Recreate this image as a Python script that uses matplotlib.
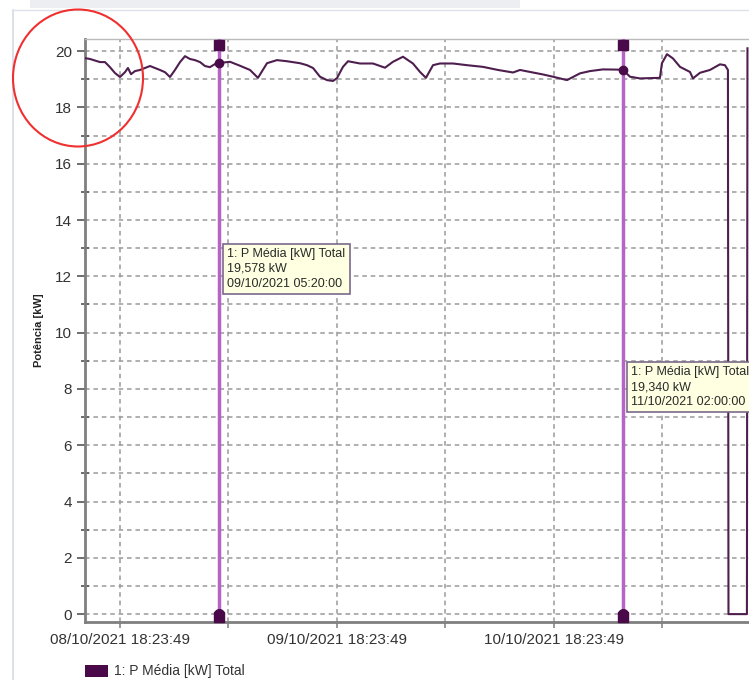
import datetime as dt
import matplotlib
matplotlib.use("Agg")
import matplotlib.pyplot as plt
import matplotlib.dates as mdates
from matplotlib.patches import Ellipse, Rectangle

plt.rcParams['font.family'] = ['Liberation Sans', 'DejaVu Sans']

# Measurement series: hours relative to 08/10/2021 18:23:49 and mean power (kW)
base_time = dt.datetime(2021, 10, 8, 18, 23, 49)
hours = [-3.87, -3.32, -2.21, -1.66, -1.11, -0.55, 0.0, 0.55, 0.88, 1.22,
         1.66, 2.21, 2.76, 3.32, 3.87, 4.42, 4.98, 5.53, 6.08, 6.64,
         7.19, 7.74, 8.29, 8.85, 9.40, 9.95, 10.51, 10.94, 12.17, 13.27,
         14.38, 15.26, 16.26, 17.36, 18.47, 19.91, 20.68, 21.35, 22.12, 22.89,
         23.56, 24.00, 24.66, 25.22, 26.54, 27.98, 29.31, 30.19, 31.30, 32.40,
         33.18, 33.84, 34.62, 35.39, 36.83, 38.38, 40.15, 41.81, 43.47, 44.24,
         45.35, 46.79, 47.89, 49.44, 50.88, 51.98, 53.42, 55.60, 56.41, 57.51,
         59.72, 59.94, 60.50, 61.16, 61.94, 63.04, 63.37, 64.15, 65.25, 66.36,
         66.91, 67.24, 67.30, 69.34, 69.40]
power_kw = [19.75, 19.72, 19.61, 19.61, 19.43, 19.22, 19.08, 19.25, 19.40, 19.18,
            19.29, 19.33, 19.40, 19.47, 19.40, 19.33, 19.25, 19.08, 19.33, 19.61,
            19.82, 19.72, 19.68, 19.61, 19.47, 19.43, 19.54, 19.578, 19.62, 19.48,
            19.33, 19.05, 19.57, 19.68, 19.64, 19.57, 19.50, 19.40, 19.09, 18.97,
            18.94, 19.04, 19.44, 19.64, 19.56, 19.56, 19.41, 19.62, 19.80, 19.56,
            19.26, 19.05, 19.50, 19.56, 19.56, 19.50, 19.44, 19.33, 19.24, 19.33,
            19.26, 19.17, 19.09, 18.97, 19.21, 19.29, 19.35, 19.340, 19.09, 19.03,
            19.05, 19.57, 19.89, 19.74, 19.44, 19.26, 19.03, 19.23, 19.33, 19.53,
            19.50, 19.33, 0.0, 0.0, 20.10]

# Cursor readouts
cursor_times = [dt.datetime(2021, 10, 9, 5, 20, 0), dt.datetime(2021, 10, 11, 2, 0, 0)]
cursor_values = [19.578, 19.340]
cursor_value_labels = ["19,578 kW", "19,340 kW"]
series_name = "1: P Média [kW] Total"
y_label = "Potência [kW]"

times = [base_time + dt.timedelta(hours=h) for h in hours]

W, H = 749, 680
fig = plt.figure(figsize=(W / 100, H / 100), dpi=100)
fig.patch.set_facecolor('white')

ax_left, ax_right, ax_top, ax_bottom = 85, 749, 39, 622
ax = fig.add_axes([ax_left / W, 1 - ax_bottom / H,
                   (ax_right - ax_left) / W, (ax_bottom - ax_top) / H])

line_color = '#4E1F4E'
cursor_color = '#B565C4'
marker_color = '#4A0A4A'
grid_color = '#9A9A9A'

ax.plot(times, power_kw, color=line_color, lw=1.5, zorder=4,
        solid_joinstyle='round')

x_start = base_time + dt.timedelta(hours=-3.87)
x_end = base_time + dt.timedelta(hours=69.57)
ax.set_xlim(x_start, x_end)
ax.set_ylim(-0.28, 20.43)

# Ticks: labelled every 24 h, gridlines every 12 h
major_ticks = [base_time + dt.timedelta(hours=24 * k) for k in range(3)]
minor_ticks = [base_time + dt.timedelta(hours=12 + 24 * k) for k in range(3)]
ax.set_xticks(major_ticks)
ax.set_xticks(minor_ticks, minor=True)
ax.xaxis.set_major_formatter(mdates.DateFormatter('%d/%m/%Y %H:%M:%S'))
ax.set_yticks(range(0, 21, 2))
ax.set_yticks(range(1, 21, 2), minor=True)

ax.tick_params(axis='both', which='major', labelsize=11, labelcolor='#333333',
               color='#555555', length=6, width=1.2)
ax.tick_params(axis='y', which='minor', length=6, width=1.2, color='#555555',
               direction='inout')
ax.tick_params(axis='x', which='minor', length=4, width=1.2, color='#888888')
ax.tick_params(axis='x', which='major', length=4, color='#888888', pad=4)

ax.grid(True, which='both', color=grid_color, linestyle=(0, (3, 2.5)), lw=1.1)
ax.set_axisbelow(True)

for side in ('left', 'bottom'):
    ax.spines[side].set_color('#7F7F7F')
    ax.spines[side].set_linewidth(2)
ax.spines['top'].set_color('#BBBBBB')
ax.spines['top'].set_linewidth(1)
ax.spines['right'].set_visible(False)

ax.set_ylabel(y_label, fontsize=8, fontweight='bold', color='#222222', labelpad=8)

# Cursors with readout boxes
box_y = [13.0, 8.8]
for t, v, lbl, by in zip(cursor_times, cursor_values, cursor_value_labels, box_y):
    ax.axvline(t, color=cursor_color, lw=2.5, zorder=3)
    ax.plot([t], [v], 'o', color=marker_color, ms=6, zorder=5)
    ax.plot([t], [20.22], 's', color=marker_color, ms=7.5, zorder=5, clip_on=False)
    ax.plot([t], [0.0], 'o', color=marker_color, ms=7, zorder=5, clip_on=False)
    ax.plot([t], [-0.12], 's', color=marker_color, ms=7, zorder=5, clip_on=False)
    text = f"{series_name}\n{lbl}\n{t.strftime('%d/%m/%Y %H:%M:%S')}"
    ax.annotate(text, xy=(t, by), xycoords='data',
                xytext=(6, 0), textcoords='offset points', fontsize=9.0,
                color='#2A2A2A', va='top', ha='left', linespacing=1.3,
                bbox=dict(boxstyle='square,pad=0.35', fc='#FFFFE1',
                          ec='#7A6A8A', lw=1.2), annotation_clip=False,
                zorder=6)

# Legend entry under the axis
fig.add_artist(Rectangle((85 / W, 1 - 677 / H), 23 / W, 12 / H,
                         transform=fig.transFigure, fc=marker_color, ec='none'))
fig.text(114 / W, 1 - 671 / H, series_name, fontsize=10, color='#333333',
         va='center', ha='left')

# Panel frame and header band
fig.add_artist(plt.Line2D([13 / W, 13 / W], [0, 1 - 10 / H],
                          transform=fig.transFigure, color='#D5DAE5', lw=1.2))
fig.add_artist(plt.Line2D([13 / W, 1], [1 - 10 / H, 1 - 10 / H],
                          transform=fig.transFigure, color='#DDE1EA', lw=1.0))
fig.add_artist(Rectangle((30 / W, 1 - 8 / H), 490 / W, 8 / H,
                         transform=fig.transFigure, fc='#ECEEF2', ec='none'))

# Highlight circle around the top of the scale
fig.add_artist(Ellipse((78 / W, 1 - 78 / H), 130 / W, 137 / H,
                       transform=fig.transFigure, fill=False,
                       ec='#F03030', lw=1.5, zorder=10))

fig.savefig('out.png', dpi=100)
